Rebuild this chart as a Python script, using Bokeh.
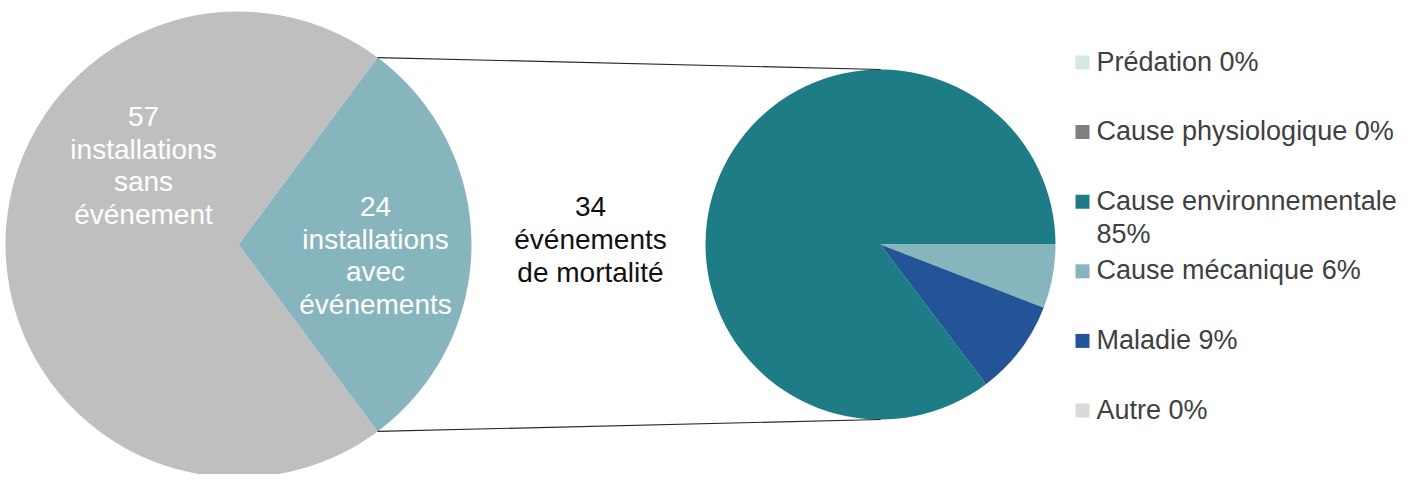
import math
from bokeh.plotting import figure
from bokeh.models import Range1d
from bokeh.core.properties import value
from bokeh.embed import file_html
from bokeh.resources import INLINE

# ---------------- data ----------------
primary_labels = ["57\ninstallations\nsans\névénement", "24\ninstallations\navec\névénements"]
primary_counts = [57, 24]
primary_colors = ["#bfbfbf", "#87b5be"]

causes = ["Prédation", "Cause physiologique", "Cause environnementale",
          "Cause mécanique", "Maladie", "Autre"]
cause_counts = [0, 0, 29, 2, 3, 0]
cause_colors = ["#d4e9e6", "#7f7f7f", "#1e7c87", "#87b5be", "#235497", "#d9d9d9"]
middle_label = "34\névénements\nde mortalité"

FONT = "Liberation Sans"
FS = "28px"
LFS = "27px"

# ---------------- figure ----------------
W, H = 1400, 474
p = figure(width=W, height=H, output_backend="svg", toolbar_location=None,
           x_range=Range1d(0, W), y_range=Range1d(490 - H, 490),
           min_border=0, match_aspect=False)
p.axis.visible = False
p.grid.visible = False
p.outline_line_color = None
p.background_fill_color = "white"
p.border_fill_color = "white"

# primary pie
c1x, c1y, r1 = 238, 246, 233
tot1 = sum(primary_counts)
half = math.pi * primary_counts[1] / tot1
p.wedge(x=[c1x], y=[c1y], radius=r1, start_angle=[half], end_angle=[2 * math.pi - half],
        direction="anticlock", fill_color=primary_colors[0], line_color=None)
p.wedge(x=[c1x], y=[c1y], radius=r1, start_angle=[-half], end_angle=[half],
        direction="anticlock", fill_color=primary_colors[1], line_color=None)

# secondary pie
c2x, c2y, r2 = 880, 246, 175
tot2 = sum(cause_counts)
k = 2 * math.pi / tot2
S = -k * sum(cause_counts[3:])
cum = 0
xs, ys, sa, ea, cols = [], [], [], [], []
for cnt, col in zip(cause_counts, cause_colors):
    if cnt > 0:
        xs.append(c2x); ys.append(c2y)
        sa.append(S - cum * k); ea.append(S - (cum + cnt) * k); cols.append(col)
    cum += cnt
p.wedge(x=xs, y=ys, radius=r2, start_angle=sa, end_angle=ea, direction="clock",
        fill_color=cols, line_color=None)

# connectors
vx = c1x + r1 * math.cos(half)
vy_top = c1y + r1 * math.sin(half)
vy_bot = c1y - r1 * math.sin(half)
p.line([vx, c2x], [vy_top, c2y + r2], line_color="#262626", line_width=1.2)
p.line([vx, c2x], [vy_bot, c2y - r2], line_color="#262626", line_width=1.2)

# labels on pies
p.text(x=[143, 375], y=[325, 235], text=primary_labels, text_color="white",
       text_font=value(FONT), text_font_size=FS, text_align="center",
       text_baseline="middle", text_line_height=1.06)
p.text(x=[590], y=[251], text=[middle_label], text_color="#111111",
       text_font=value(FONT), text_font_size=FS, text_align="center",
       text_baseline="middle", text_line_height=1.06)

# legend
pct = [round(100 * c / tot2) for c in cause_counts]
leg_text = []
for name, pc in zip(causes, pct):
    if name == "Cause environnementale":
        leg_text.append(f"{name}\n{pc}%")
    else:
        leg_text.append(f"{name} {pc}%")
row_y = [428 - i * 69.6 for i in range(len(causes))]
p.scatter(x=[1082] * len(causes), y=row_y, marker="square", size=14,
          fill_color=cause_colors, line_color=None)
p.text(x=[1096] * len(causes), y=[y + 16 for y in row_y], text=leg_text,
       text_color="#404040", text_font=value(FONT), text_font_size=LFS,
       text_align="left", text_baseline="top", text_line_height=1.12)

open("out.html", "w").write(file_html(p, INLINE))
